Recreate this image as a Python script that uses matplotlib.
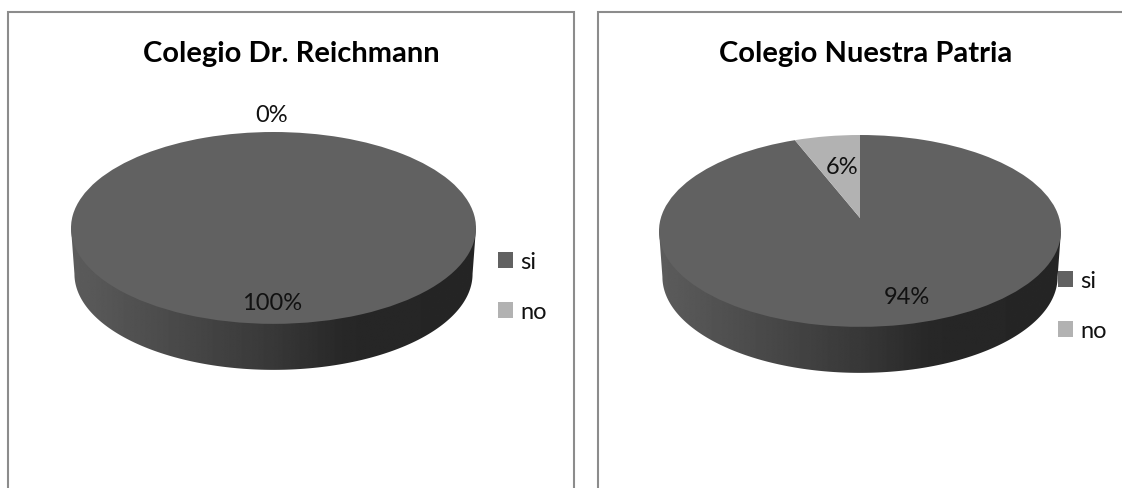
import numpy as np
import matplotlib
matplotlib.use("Agg")
import matplotlib.pyplot as plt
from matplotlib.patches import Polygon
from matplotlib.transforms import Transform

plt.rcParams['font.family'] = ['Lato', 'DejaVu Sans']

W, H = 1122, 489

# ---- data ----
categories = ['si', 'no']
titles = ['Colegio Dr. Reichmann', 'Colegio Nuestra Patria']
values_reichmann = [100, 0]
values_patria = [94, 6]
labels_reichmann = ['100%', '0%']
labels_patria = ['94%', '6%']
colors = ['#616161', '#b2b2b2']


class Tilt(Transform):
    """Projects the unit-circle pie onto a tilted disc (pixel coordinates)."""
    input_dims = output_dims = 2

    def __init__(self, cx, top, bottom, rx):
        super().__init__()
        self.cx, self.rx = cx, rx
        self.k = 0.1354
        self.d = top + 0.432 * (bottom - top)
        self.c = top * (1 + self.k) - self.d
        self.a = rx * np.sqrt(1 - self.k ** 2)

    def transform_non_affine(self, xy):
        xy = np.asarray(xy, float)
        den = 1 + self.k * xy[:, 1]
        return np.column_stack([self.cx + self.a * xy[:, 0] / den,
                                (self.c * xy[:, 1] + self.d) / den])


def panel(ax, x0, x1, frame_left, frame_right, title, title_x, values, labels,
          label_xy, cx, top, bottom, rx, legend_x, legend_y):
    tilt = Tilt(cx, top, bottom, rx)
    wedges, _ = ax.pie(values, colors=colors, startangle=90, counterclock=False,
                       radius=1, center=(0, 0), normalize=True)
    for w in wedges:
        w.set_transform(tilt + ax.transData)
        w.set_zorder(3)
        w.set_linewidth(0)

    # side wall of the disc
    depth, shrink = 46, 0.983
    t = np.linspace(0, 2 * np.pi, 1441)
    rim = tilt.transform_non_affine(np.column_stack([np.cos(t), np.sin(t)]))
    lower = rim[(rim[:, 1] > rim[rim[:, 0].argmin(), 1] - 0.01) & (t > np.pi * 0.9)]
    i_l, i_r = lower[:, 0].argmin(), lower[:, 0].argmax()
    front = lower[i_l:i_r + 1]
    low = front.copy()
    low[:, 0] = cx + (low[:, 0] - cx) * shrink
    low[:, 1] += depth
    poly = np.vstack([front[0], low, front[-1]])
    clip = Polygon(poly, closed=True, transform=ax.transData, fc='none', ec='none')
    ax.add_patch(clip)
    stops_x = np.array([0, 0.25, 0.5, 0.68, 1.0])
    stops_v = np.array([0x5c, 0x4a, 0x38, 0x27, 0x25])
    grad = np.interp(np.linspace(0, 1, 400), stops_x, stops_v).reshape(1, -1)
    img = ax.imshow(grad, extent=[cx - rx, cx + rx, bottom + depth + 2, top],
                    aspect='auto', cmap='gray', vmin=0, vmax=255, zorder=2,
                    interpolation='bilinear')
    img.set_clip_path(clip)

    ax.set_aspect('auto')
    ax.set_xlim(x0, x1)
    ax.set_ylim(H, 0)
    ax.set_axis_off()

    # frame (open at the bottom, as cropped in the source)
    ax.plot([frame_left, frame_left, frame_right, frame_right],
            [H + 5, 12.5, 12.5, H + 5], color='#8c8c8c', lw=1.5, zorder=1,
            solid_joinstyle='miter')

    ax.text(title_x, 54, title, fontsize=21, fontweight='bold', ha='center',
            va='center', color='black', zorder=5)
    for lab, (lx, ly) in zip(labels, label_xy):
        ax.text(lx, ly, lab, fontsize=17, ha='center', va='center',
                color='#111111', zorder=5)

    # legend
    ax.legend(wedges, categories, loc='upper left', frameon=False,
              bbox_to_anchor=(legend_x, legend_y),
              bbox_transform=ax.transData, fontsize=17, handlelength=0.64,
              handleheight=0.64, handletextpad=0.3, labelspacing=1.23,
              borderpad=0, borderaxespad=0, labelcolor='#111111')


fig = plt.figure(figsize=(W / 100, H / 100), dpi=100, facecolor='white')
ax1 = fig.add_axes([0, 0, 585 / W, 1])
ax2 = fig.add_axes([585 / W, 0, (W - 585) / W, 1])

panel(ax1, 0, 585, 7.5, 574, titles[0], 291, values_reichmann, labels_reichmann,
      [(272, 303), (272, 115)], 273.5, 133, 325, 202.5, 498, 252)
panel(ax2, 585, W, 597.5, W + 5, titles[1], 866, values_patria, labels_patria,
      [(907, 298), (842, 167)], 860, 136, 328, 201, 1058, 271)

fig.savefig('out.png', dpi=100, facecolor='white')
